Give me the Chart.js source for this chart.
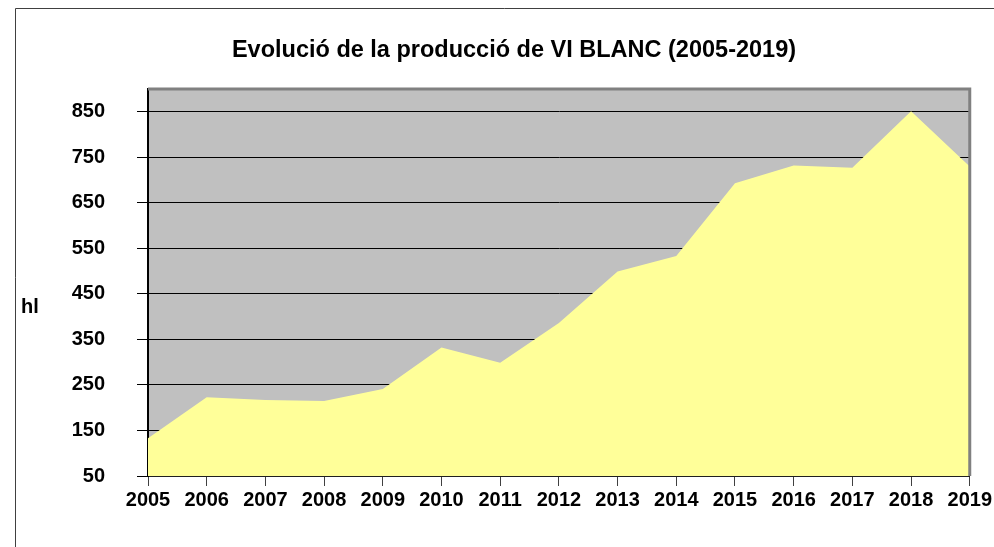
<!DOCTYPE html>
<html>
<head>
<meta charset="utf-8">
<script src="https://cdn.jsdelivr.net/npm/chart.js@4.4.1/dist/chart.umd.min.js"></script>
<style>
  html, body { margin: 0; padding: 0; background: #fff; }
  #wrap { width: 994px; height: 547px; }
</style>
</head>
<body>
<div id="wrap"><canvas id="chart"></canvas></div>
<script>
const years = ['2005', '2006', '2007', '2008', '2009', '2010', '2011', '2012',
  '2013', '2014', '2015', '2016', '2017', '2018', '2019'];
const production = [133, 223, 217, 215, 241, 332, 299, 386, 499, 533, 693, 732, 727, 851, 730];
const yTicks = [50, 150, 250, 350, 450, 550, 650, 750, 850];

const titleText = 'Evolució de la producció de VI BLANC (2005-2019)';
const unitText = 'hl';
const fontFamily = '"Liberation Sans", Arial, sans-serif';

// grey plot background, outer frame, title and unit label
const frame = {
  id: 'frame',
  beforeDraw(chart) {
    const { ctx, chartArea: a } = chart;
    ctx.save();
    ctx.fillStyle = '#c0c0c0';
    ctx.fillRect(a.left, a.top, a.right - a.left, a.bottom - a.top);
    ctx.strokeStyle = '#404040';
    ctx.lineWidth = 1;
    ctx.beginPath();
    ctx.moveTo(15.5, 547);
    ctx.lineTo(15.5, 8.5);
    ctx.lineTo(994, 8.5);
    ctx.stroke();
    ctx.fillStyle = '#000';
    ctx.textBaseline = 'middle';
    ctx.font = 'bold 23.5px ' + fontFamily;
    ctx.textAlign = 'center';
    ctx.fillText(titleText, 514, 51);
    ctx.font = 'bold 20px ' + fontFamily;
    ctx.textAlign = 'left';
    ctx.fillText(unitText, 21, 307);
    ctx.restore();
  },
  afterDatasetsDraw(chart) {
    const { ctx, chartArea: a } = chart;
    ctx.save();
    ctx.strokeStyle = '#808080';
    ctx.lineWidth = 3;
    ctx.beginPath();
    ctx.moveTo(a.left, a.top);
    ctx.lineTo(a.right, a.top);
    ctx.lineTo(a.right, a.bottom);
    ctx.stroke();
    ctx.restore();
  }
};

new Chart(document.getElementById('chart'), {
  type: 'line',
  data: {
    labels: years,
    datasets: [{
      data: production,
      fill: 'start',
      backgroundColor: '#ffff99',
      borderWidth: 0,
      pointRadius: 0,
      tension: 0,
    }],
  },
  options: {
    responsive: true,
    maintainAspectRatio: false,
    animation: false,
    layout: { padding: { left: 0, right: 23, top: 89, bottom: 0 } },
    plugins: {
      legend: { display: false },
      tooltip: { enabled: false },
      title: { display: false },
    },
    scales: {
      x: {
        offset: false,
        grid: { display: true, drawOnChartArea: false, tickLength: 10, color: '#404040' },
        border: { color: '#202020', width: 2 },
        ticks: {
          color: '#000',
          padding: 2,
          maxRotation: 0,
          autoSkip: false,
          font: { family: fontFamily, size: 20, weight: 'bold' },
        },
        afterFit(scale) { scale.height = 71; },
      },
      y: {
        min: 50,
        max: 900,
        afterBuildTicks(scale) { scale.ticks = yTicks.map(v => ({ value: v })); },
        grid: { color: '#000', lineWidth: 1, tickLength: 11 },
        border: { color: '#000', width: 2 },
        ticks: {
          color: '#000',
          padding: 32,
          font: { family: fontFamily, size: 20, weight: 'bold' },
        },
        afterFit(scale) { scale.width = 148; },
      },
    },
  },
  plugins: [frame],
});
</script>
</body>
</html>
